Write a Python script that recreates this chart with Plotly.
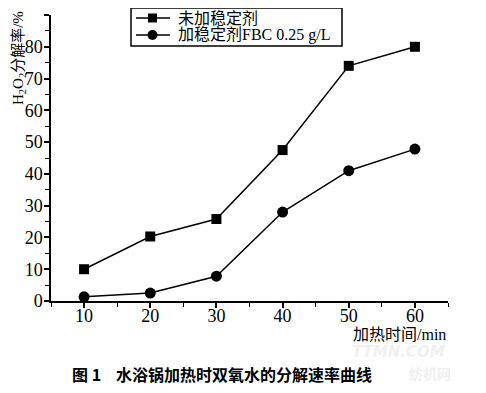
import plotly.graph_objects as go

time_min = [10, 20, 30, 40, 50, 60]
no_stabilizer = [10.0, 20.3, 25.8, 47.5, 74.0, 80.0]
with_fbc = [1.3, 2.5, 7.8, 28.0, 41.0, 47.8]
series_names = ["未加稳定剂", "加稳定剂FBC 0.25 g/L"]
x_ticks = [10, 20, 30, 40, 50, 60]
y_ticks = [0, 10, 20, 30, 40, 50, 60, 70, 80, 90]

SERIF = "Liberation Serif, Times New Roman, Noto Sans CJK SC, serif"

# page has an 8px body margin: figure is drawn offset by (8, 8)
OFF = 8
W, H = 470, 377
L, T = 51 - OFF, 15 - OFF
R = W - (448 - OFF)
B = H - (301 - OFF)
PW, PH = W - L - R, H - T - B


def px(xp):  # page x pixel -> paper x
    return (xp - OFF - L) / PW


def py(yp):  # page y pixel -> paper y
    return (H - B - (yp - OFF)) / PH


fig = go.Figure()
fig.add_trace(go.Scatter(
    x=time_min, y=no_stabilizer, name=series_names[0], mode="lines+markers",
    line=dict(color="black", width=1.5),
    marker=dict(symbol="square", size=10, color="black"),
    cliponaxis=False, showlegend=False,
))
fig.add_trace(go.Scatter(
    x=time_min, y=with_fbc, name=series_names[1], mode="lines+markers",
    line=dict(color="black", width=1.5),
    marker=dict(symbol="circle", size=11, color="black"),
    cliponaxis=False, showlegend=False,
))

axis_common = dict(
    automargin=False,
    showline=True, linecolor="black", linewidth=1.5,
    ticks="outside", ticklen=5, tickwidth=1.5, tickcolor="black",
    showgrid=False, zeroline=False,
    tickfont=dict(size=18, family=SERIF),
)

fig.update_layout(
    template="none",
    width=W, height=H,
    margin=dict(l=L, r=R, t=T, b=B, pad=0, autoexpand=False),
    paper_bgcolor="white", plot_bgcolor="white",
    font=dict(family=SERIF, color="black", size=16),
    showlegend=False,
    xaxis=dict(
        range=[5, 65], tickmode="array", tickvals=x_ticks,
        ticktext=[str(v) for v in x_ticks], ticklabelstandoff=-7,
        minor=dict(dtick=5, ticks="outside", ticklen=4, tickwidth=1.2, tickcolor="black", showgrid=False),
        **axis_common,
    ),
    yaxis=dict(
        range=[0, 90], tickmode="array", tickvals=y_ticks,
        ticktext=[str(v) for v in y_ticks], ticklabelstandoff=-2,
        minor=dict(dtick=5, ticks="outside", ticklen=4, tickwidth=1.2, tickcolor="black", showgrid=False),
        **axis_common,
    ),
)

# ---- manual legend ----
shapes = [
    dict(type="rect", xref="paper", yref="paper",
         x0=px(131), x1=px(342), y0=py(46), y1=py(8),
         line=dict(color="black", width=1.5), fillcolor="white", layer="above"),
]
rows = [(18, "square"), (35, "circle")]
for (yc, sym), name in zip(rows, series_names):
    shapes.append(dict(type="line", xref="paper", yref="paper",
                       x0=px(136), x1=px(170), y0=py(yc), y1=py(yc),
                       line=dict(color="black", width=1.5), layer="above"))
    if sym == "square":
        shapes.append(dict(type="rect", xref="paper", yref="paper",
                           x0=px(148), x1=px(157), y0=py(yc + 4.5), y1=py(yc - 4.5),
                           line=dict(color="black", width=0), fillcolor="black", layer="above"))
    else:
        shapes.append(dict(type="circle", xref="paper", yref="paper",
                           x0=px(147.5), x1=px(157.5), y0=py(yc + 5), y1=py(yc - 5),
                           line=dict(color="black", width=0), fillcolor="black", layer="above"))
    fig.add_annotation(
        text=name, xref="paper", yref="paper", x=px(176), y=py(yc),
        xanchor="left", yanchor="middle", showarrow=False,
        font=dict(family=SERIF, size=16, color="black"),
    )
fig.update_layout(shapes=shapes)

# Y-axis title
fig.add_annotation(
    text="H<sub>2</sub>O<sub>2</sub>分解率/%", textangle=-90,
    xref="paper", yref="paper", x=px(19), y=py(9),
    xanchor="center", yanchor="top", showarrow=False,
    font=dict(family=SERIF, size=15, color="black"),
)
# X-axis title
fig.add_annotation(
    text="加热时间/min",
    xref="paper", yref="paper", x=px(448), y=py(334),
    xanchor="right", yanchor="middle", showarrow=False,
    font=dict(family=SERIF, size=16, color="black"),
)
# Caption
fig.add_annotation(
    text="<b>图 1</b>",
    xref="paper", yref="paper", x=px(70), y=py(374),
    xanchor="left", yanchor="middle", showarrow=False,
    font=dict(family="Noto Sans CJK SC, sans-serif", size=16, color="black"),
)
fig.add_annotation(
    text="<b>水浴锅加热时双氧水的分解速率曲线</b>",
    xref="paper", yref="paper", x=px(114), y=py(374),
    xanchor="left", yanchor="middle", showarrow=False,
    font=dict(family="Noto Sans CJK SC, sans-serif", size=16, color="black"),
)
# Faint watermark
fig.add_annotation(
    text="<b><i>TTMN.COM</i></b>",
    xref="paper", yref="paper", x=px(398), y=py(352),
    xanchor="center", yanchor="middle", showarrow=False,
    font=dict(family="DejaVu Sans, sans-serif", size=15, color="#f0f0f0"),
)
fig.add_annotation(
    text="<b>纺机网</b>",
    xref="paper", yref="paper", x=px(430), y=py(373),
    xanchor="center", yanchor="middle", showarrow=False,
    font=dict(family="Noto Sans CJK SC, sans-serif", size=14, color="#f0f0f0"),
)

fig.write_html("out.html")
